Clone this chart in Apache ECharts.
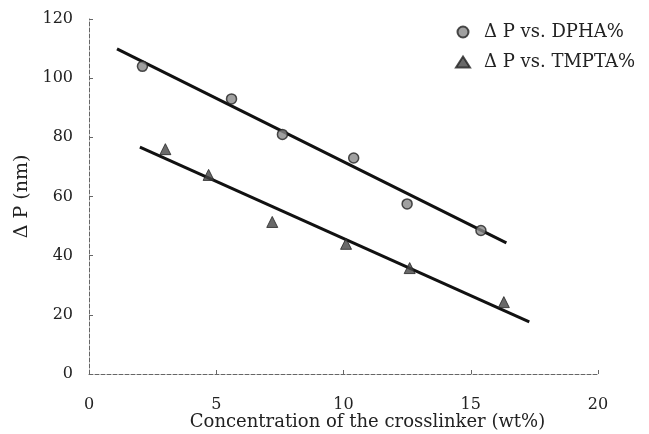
<!DOCTYPE html>
<html>
<head>
<meta charset="utf-8">
<script src="https://cdn.jsdelivr.net/npm/echarts@6/dist/echarts.min.js"></script>
<style>
html, body { margin: 0; padding: 0; background: #fff; }
#chart { width: 649px; height: 434px; }
</style>
</head>
<body>
<div id="chart"></div>
<script>
// measured points
var dphaX = [2.1, 5.6, 7.6, 10.4, 12.5, 15.4];
var dphaY = [104, 93, 81, 73, 57.5, 48.5];
var tmptaX = [3.0, 4.7, 7.2, 10.1, 12.6, 16.3];
var tmptaY = [76, 67.3, 51.4, 44, 35.8, 24.3];
// fitted lines (end points)
var dphaFitX = [1.1, 16.4];
var dphaFitY = [109.9, 44.3];
var tmptaFitX = [2.0, 17.3];
var tmptaFitY = [76.7, 17.6];

var FONT = 'DejaVu Serif';
var AXIS_COLOR = '#666';
var TEXT_COLOR = '#222';

function pairs(xs, ys) {
    return xs.map(function (x, i) { return [x, ys[i]]; });
}

var myChart = echarts.init(document.getElementById('chart'));
var option = {
    animation: false,
    backgroundColor: '#fff',
    grid: {
        left: 89,
        right: 51,
        top: 19,
        bottom: 60,
        outerBoundsMode: 'none'
    },
    legend: {
        data: ['Δ P vs. DPHA%', 'Δ P vs. TMPTA%'],
        orient: 'vertical',
        left: 450,
        top: 18,
        itemGap: 12,
        itemWidth: 14,
        itemHeight: 11,
        textStyle: {
            fontFamily: FONT,
            fontSize: 18,
            color: TEXT_COLOR,
            padding: [0, 0, 0, 9]
        }
    },
    xAxis: {
        type: 'value',
        min: 0,
        max: 20,
        interval: 5,
        name: 'Concentration of the crosslinker (wt%)',
        nameLocation: 'middle',
        nameGap: 39,
        nameMoveOverlap: false,
        nameTextStyle: {
            fontFamily: FONT,
            fontSize: 18,
            color: TEXT_COLOR,
            padding: [0, 0, 0, 48]
        },
        axisLine: { lineStyle: { color: AXIS_COLOR, type: 'dashed', width: 1 } },
        axisTick: { inside: true, length: 4, lineStyle: { color: AXIS_COLOR } },
        axisLabel: {
            margin: 23,
            fontFamily: FONT,
            fontSize: 16,
            color: TEXT_COLOR
        },
        splitLine: { show: false }
    },
    yAxis: {
        type: 'value',
        min: 0,
        max: 120,
        interval: 20,
        name: 'Δ P (nm)',
        nameLocation: 'middle',
        nameGap: 56,
        nameRotate: 90,
        nameTextStyle: {
            fontFamily: FONT,
            fontSize: 19,
            color: TEXT_COLOR
        },
        axisLine: { show: true, lineStyle: { color: AXIS_COLOR, type: 'dashed', width: 1 } },
        axisTick: { show: true, inside: true, length: 4, lineStyle: { color: AXIS_COLOR } },
        axisLabel: {
            margin: 16,
            fontFamily: FONT,
            fontSize: 16,
            color: TEXT_COLOR
        },
        splitLine: { show: false }
    },
    series: [
        {
            name: 'fit1',
            type: 'line',
            data: pairs(dphaFitX, dphaFitY),
            symbol: 'none',
            lineStyle: { color: '#111', width: 3 },
            z: 1
        },
        {
            name: 'fit2',
            type: 'line',
            data: pairs(tmptaFitX, tmptaFitY),
            symbol: 'none',
            lineStyle: { color: '#111', width: 3 },
            z: 1
        },
        {
            name: 'Δ P vs. DPHA%',
            type: 'scatter',
            data: pairs(dphaX, dphaY),
            symbol: 'circle',
            symbolSize: 10,
            itemStyle: { color: '#888', borderColor: '#222', borderWidth: 1.5 },
            z: 3
        },
        {
            name: 'Δ P vs. TMPTA%',
            type: 'scatter',
            data: pairs(tmptaX, tmptaY),
            symbol: 'triangle',
            symbolSize: 11,
            itemStyle: { color: '#444', borderColor: '#222', borderWidth: 1 },
            z: 3
        }
    ]
};
myChart.setOption(option);
</script>
</body>
</html>
